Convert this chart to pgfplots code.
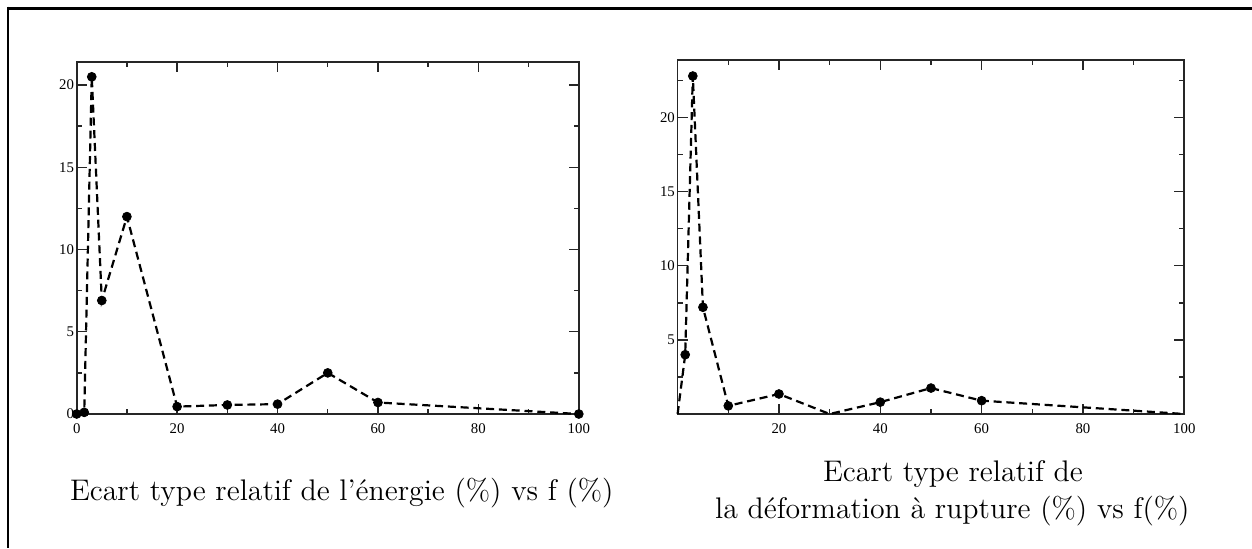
\documentclass[border=0pt]{standalone}
\usepackage{fontspec}
\usepackage{pgfplots}
\pgfplotsset{compat=1.18}
\newfontfamily\tickfont{Liberation Serif}
\pgfplotsset{
  myaxis/.style={
    scale only axis, anchor=south west, clip=false,
    axis line style={black!85, line width=0.85pt},
    every tick/.style={black!85, line width=0.7pt},
    tick align=inside,
    major tick length=5pt, minor tick length=2.5pt,
    /pgf/number format/assume math mode=true,
    tick label style={font=\tickfont\fontsize{7.4}{8}\selectfont, black},
    yticklabel style={inner xsep=1.2pt},
    xticklabel style={yshift=-1.2pt},
    xmin=0, xmax=100, ymin=0,
    minor xtick={10,30,...,90},
  },
  myline/.style={black, line width=1.1pt, dash pattern=on 4pt off 2.4pt, mark=none},
  mymarks/.style={black, only marks, mark=*, mark size=2.2pt},
}
\begin{document}
\begin{tikzpicture}[x=1pt,y=1pt]
\useasboundingbox (0,0) rectangle (626,274);
\draw[line width=1.5pt] (4,270) -- (626,270);
\draw[line width=1.4pt] (4,270.7) -- (4,0);

\begin{axis}[myaxis, at={(38.35pt,67pt)}, width=251.05pt, height=176pt,
  ymax=21.4,
  xtick={0,20,...,100}, ytick={0,5,...,20},
  minor ytick={2.5,7.5,...,17.5}]
\addplot[myline] table {
x y
0 0
1.5 0.1
3 20.5
5 6.9
10 12
20 0.45
30 0.55
40 0.6
50 2.5
60 0.7
100 0
};
\addplot[mymarks] table {
x y
0 0
1.5 0.1
3 20.5
5 6.9
10 12
20 0.45
30 0.55
40 0.6
50 2.5
60 0.7
100 0
};
\end{axis}

\begin{axis}[myaxis, at={(338.8pt,67pt)}, width=253.35pt, height=177.15pt,
  ymax=23.9,
  xtick={20,40,...,100}, ytick={5,10,...,20},
  minor ytick={2.5,7.5,...,22.5}]
\addplot[myline] table {
x y
0 0
1.5 4.0
3 22.8
5 7.2
10 0.55
20 1.35
30 0
40 0.8
50 1.75
60 0.9
100 0
};
\addplot[mymarks] table {
x y
1.5 4.0
3 22.8
5 7.2
10 0.55
20 1.35
40 0.8
50 1.75
60 0.9
};
\end{axis}

\node[anchor=base, inner sep=0pt, font=\fontsize{14.9}{17}\selectfont] at (170.9,24) {Ecart type relatif de l'énergie (\%) vs f (\%)};
\node[anchor=base, inner sep=0pt, font=\fontsize{14.9}{17}\selectfont] at (476.5,33.15) {Ecart type relatif de};
\node[anchor=base, inner sep=0pt, font=\fontsize{14.9}{17}\selectfont] at (476.2,15) {la déformation à rupture (\%) vs f(\%)};
\end{tikzpicture}
\end{document}
